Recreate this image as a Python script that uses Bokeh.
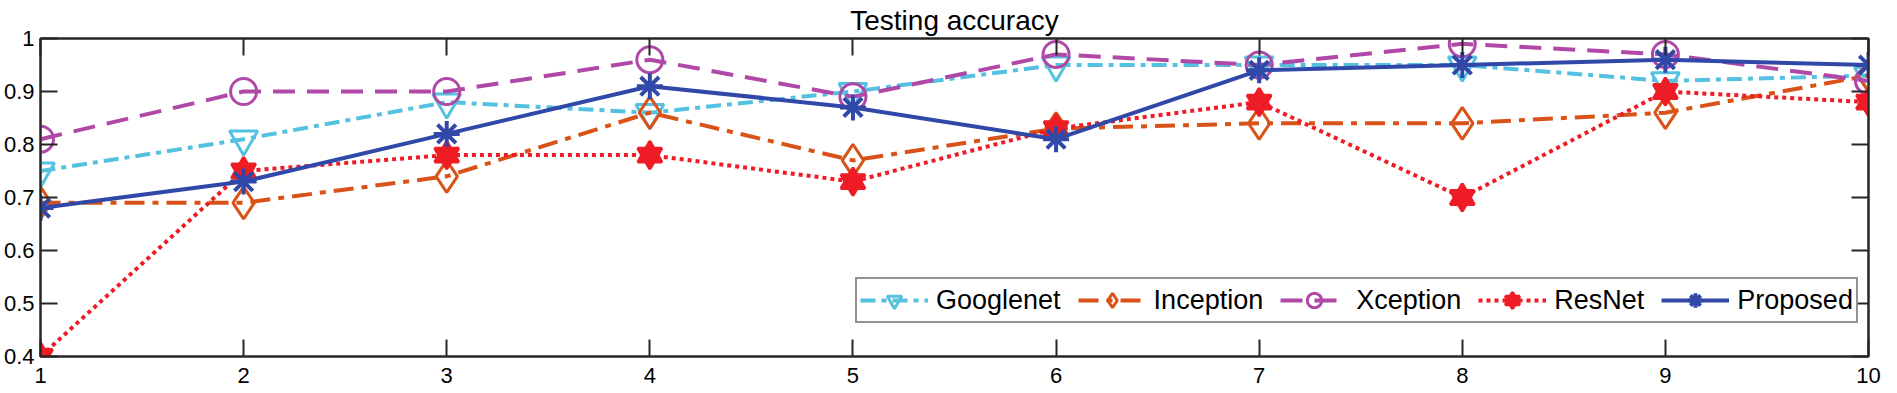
from bokeh.plotting import figure
from bokeh.models import Range1d, LinearAxis, FixedTicker, Legend, LegendItem
from bokeh.embed import file_html
from bokeh.resources import INLINE

# ---- data ----
epochs = [1, 2, 3, 4, 5, 6, 7, 8, 9, 10]
googlenet = [0.75, 0.81, 0.88, 0.86, 0.90, 0.95, 0.95, 0.95, 0.92, 0.93]
inception = [0.69, 0.69, 0.74, 0.86, 0.77, 0.83, 0.84, 0.84, 0.86, 0.93]
xception = [0.81, 0.90, 0.90, 0.96, 0.89, 0.97, 0.95, 0.99, 0.97, 0.92]
resnet = [0.40, 0.75, 0.78, 0.78, 0.73, 0.83, 0.88, 0.70, 0.90, 0.88]
proposed = [0.68, 0.73, 0.82, 0.91, 0.87, 0.81, 0.94, 0.95, 0.96, 0.95]
x_ticks = [1, 2, 3, 4, 5, 6, 7, 8, 9, 10]
y_ticks = [0.4, 0.5, 0.6, 0.7, 0.8, 0.9, 1.0]
y_tick_labels = ["0.4", "0.5", "0.6", "0.7", "0.8", "0.9", "1"]
title_text = "Testing accuracy"

FONT = "Liberation Sans"
AX = "#262626"

p = figure(width=1881, height=393, output_backend="svg", toolbar_location=None,
           x_range=Range1d(1, 10), y_range=Range1d(0.4, 1.0),
           min_border_left=37, min_border_right=13, min_border_top=38, min_border_bottom=37,
           title=title_text)
p.title.align = "center"
p.title.text_font = FONT
p.title.text_font_size = "28px"
p.title.text_font_style = "normal"
p.title.text_color = "#000000"
p.title.standoff = 5
p.grid.visible = False
p.outline_line_color = AX
p.outline_line_width = 2
p.background_fill_color = "white"
p.border_fill_color = "white"

def style_axis(ax, show_labels):
    ax.axis_line_color = AX
    ax.axis_line_width = 2
    ax.major_tick_line_color = AX
    ax.major_tick_line_width = 2
    ax.major_tick_in = 17
    ax.major_tick_out = 0
    ax.minor_tick_line_color = None
    ax.major_label_text_font = FONT
    ax.major_label_text_color = "#000000"
    if show_labels:
        ax.major_label_text_font_size = "22px"
    else:
        ax.major_label_text_font_size = "0px"
        ax.major_label_text_color = None
        ax.major_label_standoff = 0

p.xaxis.ticker = FixedTicker(ticks=x_ticks)
p.yaxis.ticker = FixedTicker(ticks=y_ticks)
p.yaxis.major_label_overrides = {t: s for t, s in zip(y_ticks, y_tick_labels)}
style_axis(p.xaxis[0], True)
style_axis(p.yaxis[0], True)
p.xaxis.major_label_standoff = 11
p.yaxis.major_label_standoff = 6

top = LinearAxis(ticker=FixedTicker(ticks=x_ticks))
right = LinearAxis(ticker=FixedTicker(ticks=y_ticks))
style_axis(top, False)
style_axis(right, False)
p.add_layout(top, "above")
p.add_layout(right, "right")

C_G = "#55C1E0"
C_I = "#D95319"
C_X = "#B048A8"
C_R = "#EE1C25"
C_P = "#3048A8"

lg = p.line(epochs, googlenet, line_color=C_G, line_width=4, line_dash="15 6 5 6")
mg = p.scatter(epochs, googlenet, marker="inverted_triangle", size=28, line_color=C_G,
               line_width=3, fill_color=None)
li = p.line(epochs, inception, line_color=C_I, line_width=4, line_dash="20 8 6 8")
mi = p.scatter(epochs, inception, marker="diamond", size=32, line_color=C_I,
               line_width=3, fill_color=None)
lx = p.line(epochs, xception, line_color=C_X, line_width=4, line_dash="22 12")
mx = p.scatter(epochs, xception, marker="circle", size=26, line_color=C_X,
               line_width=3, fill_color=None)
lr = p.line(epochs, resnet, line_color=C_R, line_width=4, line_dash="4 4")
mr1 = p.scatter(epochs, resnet, marker="triangle", size=24, line_color=C_R,
                line_width=3, fill_color=C_R)
mr2 = p.scatter(epochs, resnet, marker="inverted_triangle", size=24, line_color=C_R,
                line_width=3, fill_color=C_R)
lp = p.line(epochs, proposed, line_color=C_P, line_width=4)
mp = p.scatter(epochs, proposed, marker="asterisk", size=26, line_color=C_P, line_width=4)

legend = Legend(items=[
    LegendItem(label="Googlenet", renderers=[lg, mg]),
    LegendItem(label="Inception", renderers=[li, mi]),
    LegendItem(label="Xception", renderers=[lx, mx]),
    LegendItem(label="ResNet", renderers=[lr, mr1, mr2]),
    LegendItem(label="Proposed", renderers=[lp, mp]),
], location=(815, 33), orientation="horizontal")
legend.label_text_font = FONT
legend.label_text_font_size = "27px"
legend.label_text_color = "#000000"
legend.glyph_width = 68
legend.glyph_height = 36
legend.label_standoff = 8
legend.spacing = 17
legend.padding = 3
legend.margin = 0
legend.border_line_color = AX
legend.border_line_width = 2
legend.background_fill_color = "white"
legend.background_fill_alpha = 1
p.add_layout(legend)

open("out.html", "w").write(file_html(p, INLINE))
